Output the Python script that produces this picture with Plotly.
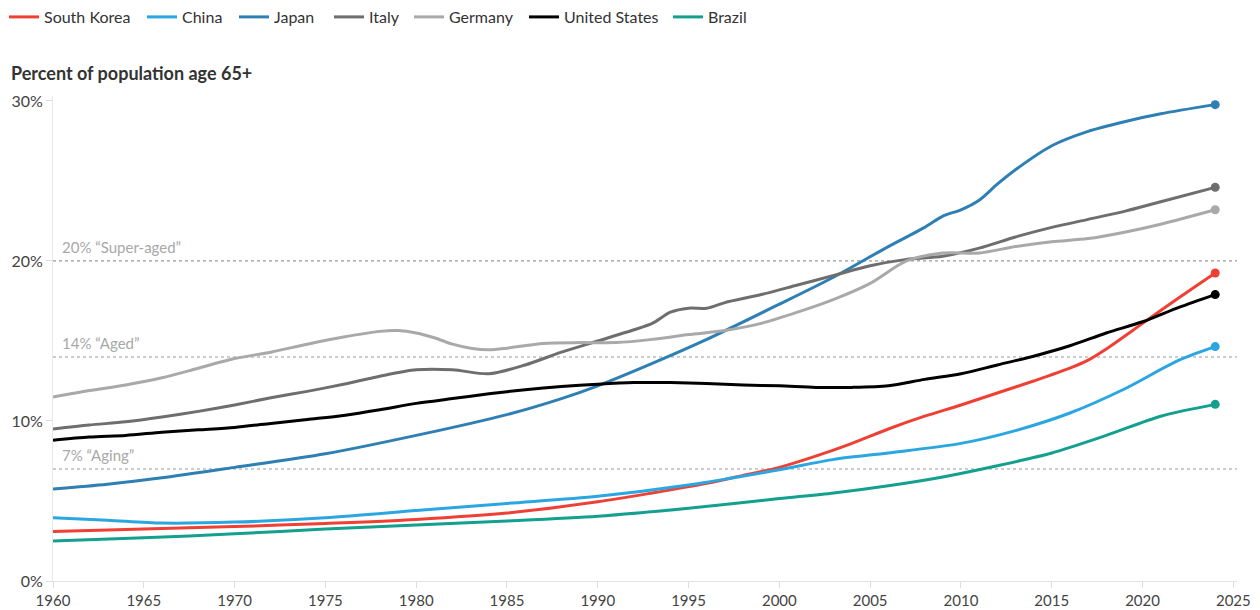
import plotly.graph_objects as go

# ---- Data: share of population aged 65+ (%) ----
SK_YEARS = [1960, 1965, 1970, 1975, 1980, 1985, 1990, 1993, 1996, 1998, 2000, 2002, 2004,
            2006, 2008, 2010, 2012, 2014, 2016, 2017, 2018, 2020, 2022, 2024]
SK_VALS = [3.1, 3.25, 3.4, 3.6, 3.85, 4.25, 4.95, 5.5, 6.1, 6.6, 7.1, 7.8, 8.6,
           9.5, 10.3, 11.0, 11.75, 12.5, 13.3, 13.8, 14.5, 16.1, 17.7, 19.25]

CN_YEARS = [1960, 1963, 1966, 1970, 1975, 1980, 1985, 1990, 1995, 2000, 2003, 2006,
            2010, 2013, 2016, 2019, 2022, 2024]
CN_VALS = [3.95, 3.8, 3.62, 3.68, 3.95, 4.4, 4.85, 5.3, 6.0, 6.95, 7.6, 8.0,
           8.6, 9.4, 10.5, 12.0, 13.8, 14.65]

JP_YEARS = [1960, 1963, 1966, 1970, 1975, 1980, 1985, 1988, 1990, 1993, 1996, 2000, 2003,
            2006, 2008, 2009, 2010, 2011, 2012, 2013, 2015, 2017, 2019, 2021, 2024]
JP_VALS = [5.75, 6.05, 6.45, 7.1, 7.95, 9.1, 10.4, 11.4, 12.2, 13.6, 15.1, 17.3, 19.0,
           20.9, 22.1, 22.8, 23.2, 23.8, 24.8, 25.7, 27.2, 28.1, 28.7, 29.2, 29.77]

IT_YEARS = [1960, 1962, 1964, 1966, 1968, 1970, 1972, 1974, 1976, 1978, 1980, 1982, 1984,
            1986, 1988, 1990, 1992, 1993, 1994, 1995, 1996, 1997, 1999, 2001, 2003, 2005,
            2007, 2009, 2011, 2013, 2015, 2017, 2019, 2021, 2024]
IT_VALS = [9.5, 9.75, 9.95, 10.25, 10.6, 11.0, 11.45, 11.85, 12.3, 12.8, 13.2, 13.2, 12.95,
           13.5, 14.3, 15.0, 15.7, 16.1, 16.8, 17.05, 17.05, 17.4, 17.9, 18.5, 19.1, 19.7,
           20.1, 20.3, 20.8, 21.5, 22.1, 22.6, 23.1, 23.7, 24.6]

DE_YEARS = [1960, 1962, 1964, 1966, 1968, 1970, 1972, 1974, 1976, 1978, 1979, 1980, 1981,
            1982, 1983, 1984, 1985, 1987, 1989, 1991, 1993, 1995, 1997, 1999, 2001, 2003,
            2005, 2007, 2009, 2011, 2013, 2015, 2017, 2019, 2021, 2024]
DE_VALS = [11.5, 11.9, 12.25, 12.7, 13.3, 13.9, 14.3, 14.8, 15.25, 15.6, 15.65, 15.5, 15.2,
           14.8, 14.55, 14.45, 14.55, 14.85, 14.9, 14.9, 15.1, 15.4, 15.65, 16.1, 16.8, 17.6,
           18.6, 20.0, 20.5, 20.5, 20.9, 21.2, 21.4, 21.8, 22.3, 23.2]

US_YEARS = [1960, 1962, 1964, 1966, 1968, 1970, 1972, 1974, 1976, 1978, 1980, 1982, 1984,
            1986, 1988, 1990, 1992, 1994, 1996, 1998, 2000, 2002, 2004, 2006, 2008, 2010,
            2012, 2014, 2016, 2018, 2020, 2022, 2024]
US_VALS = [8.8, 9.0, 9.1, 9.3, 9.45, 9.6, 9.85, 10.1, 10.35, 10.7, 11.1, 11.4, 11.7,
           11.95, 12.15, 12.3, 12.4, 12.4, 12.35, 12.25, 12.2, 12.1, 12.1, 12.2, 12.6, 12.95,
           13.5, 14.05, 14.7, 15.5, 16.2, 17.1, 17.9]

BR_YEARS = [1960, 1965, 1970, 1975, 1980, 1985, 1990, 1995, 2000, 2003, 2006, 2009, 2012,
            2015, 2018, 2021, 2024]
BR_VALS = [2.5, 2.7, 2.95, 3.25, 3.5, 3.75, 4.05, 4.55, 5.15, 5.5, 5.95, 6.5, 7.2,
           8.0, 9.1, 10.3, 11.04]

COUNTRIES = ["South Korea", "China", "Japan", "Italy", "Germany", "United States", "Brazil"]
COLORS = ["#ee4035", "#2aa6e0", "#2e7fb4", "#6e6e6e", "#a9a9a9", "#000000", "#14a08f"]
SERIES = [(SK_YEARS, SK_VALS), (CN_YEARS, CN_VALS), (JP_YEARS, JP_VALS), (IT_YEARS, IT_VALS),
          (DE_YEARS, DE_VALS), (US_YEARS, US_VALS), (BR_YEARS, BR_VALS)]

THRESHOLDS = [20, 14, 7]
THRESHOLD_LABELS = ["20% “Super-aged”", "14% “Aged”", "7% “Aging”"]

X_TICKS = list(range(1960, 2026, 5))
Y_TICKS = [0, 10, 20, 30]
Y_TICK_TEXT = ["0%", "10%", "20%", "30%"]

# ---- Layout geometry (pixels) ----
W, H = 1260, 610
PL, PR, PT, PB = 53, 1237, 96, 581
FONT = "Lato, 'Source Sans Pro', sans-serif"
LEGEND_SYMBOL_X = [9, 147, 239, 334, 414, 529, 673]


def paper_x(px):
    return (px - PL) / (PR - PL)


def paper_y(py):
    return (PB - py) / (PB - PT)


fig = go.Figure()

legend_layout = {}
for i, (name, color, (yrs, vals)) in enumerate(zip(COUNTRIES, COLORS, SERIES)):
    lg = "legend" if i == 0 else f"legend{i + 1}"
    fig.add_trace(go.Scatter(
        x=yrs, y=vals, name=name, mode="lines",
        line=dict(color=color, width=3, shape="spline", smoothing=0.8),
        legend=lg, hoverinfo="skip",
    ))
    fig.add_trace(go.Scatter(
        x=[yrs[-1]], y=[vals[-1]], mode="markers", showlegend=False,
        marker=dict(color=color, size=9), hoverinfo="skip",
    ))
    legend_layout[lg] = dict(
        orientation="h", x=paper_x(LEGEND_SYMBOL_X[i] - 5), xanchor="left",
        y=paper_y(17), yanchor="middle", bgcolor="rgba(0,0,0,0)", borderwidth=0,
        font=dict(family=FONT, size=16, color="#333333"),
    )

# Threshold reference lines with labels
for level, label in zip(THRESHOLDS, THRESHOLD_LABELS):
    fig.add_shape(type="line", xref="paper", x0=0, x1=1, yref="y", y0=level, y1=level,
                  line=dict(color="#9a9a9a", width=1.2, dash="dot"), layer="below")
    fig.add_annotation(x=1960, y=level, xref="x", yref="y", text=label, showarrow=False,
                       xanchor="left", yanchor="bottom", xshift=7, yshift=3,
                       font=dict(family=FONT, size=15, color="#a8a8a8"))

# Axis title
fig.add_annotation(x=paper_x(9), y=paper_y(73), xref="paper", yref="paper",
                   text="<b>Percent of population age 65+</b>", showarrow=False,
                   xanchor="left", yanchor="middle",
                   font=dict(family=FONT, size=18, color="#333333"))

fig.update_layout(
    width=W, height=H,
    margin=dict(l=PL, r=W - PR, t=PT, b=H - PB, pad=0, autoexpand=False),
    paper_bgcolor="white", plot_bgcolor="white",
    font=dict(family=FONT, size=14, color="#333333"),
    showlegend=True,
    **legend_layout,
)

fig.update_xaxes(
    range=[1960, 2025.2], tickvals=X_TICKS, ticks="outside", ticklen=6,
    tickcolor="#dddddd", showgrid=False, zeroline=False, showline=True, automargin=False,
    linecolor="#e3e3e3", linewidth=1, tickfont=dict(family=FONT, size=15, color="#444444"),
)
fig.update_yaxes(
    range=[0, 30.31], tickvals=Y_TICKS, ticktext=Y_TICK_TEXT, ticks="outside", ticklen=6,
    tickcolor="#dddddd", showgrid=False, zeroline=False, showline=True, automargin=False,
    linecolor="#e8e8e8", linewidth=1, tickfont=dict(family=FONT, size=16, color="#444444"),
)

fig.write_html("out.html")
